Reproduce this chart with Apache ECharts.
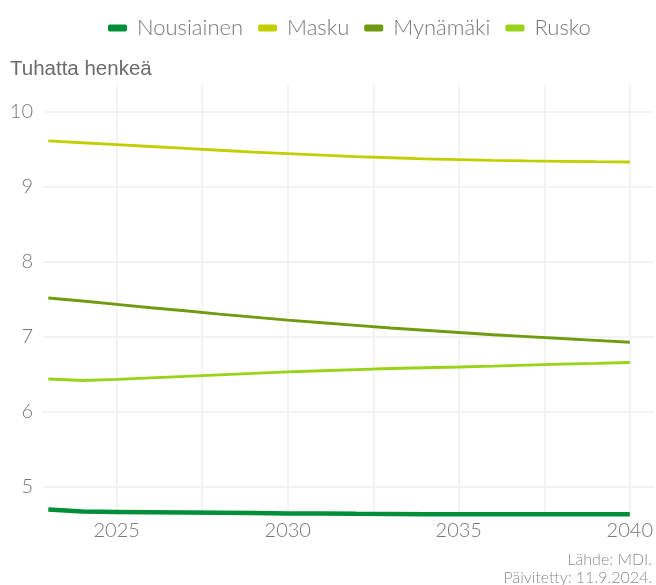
<!DOCTYPE html>
<html>
<head>
<meta charset="utf-8">
<script src="https://cdn.jsdelivr.net/npm/echarts@6/dist/echarts.min.js"></script>
<style>
  html, body { margin: 0; padding: 0; background: #fff; }
  #chart { width: 656px; height: 585px; }
</style>
</head>
<body>
<div id="chart"></div>
<script>
// Väestöennuste, tuhatta henkeä

let years = [2023, 2024, 2025, 2026, 2027, 2028, 2029, 2030, 2031, 2032, 2033, 2034, 2035, 2036, 2037, 2038, 2039, 2040];
let nousiainen = [4.70, 4.672, 4.668, 4.664, 4.66, 4.656, 4.652, 4.648, 4.645, 4.642, 4.64, 4.638, 4.637, 4.636, 4.636, 4.636, 4.636, 4.635];
let masku = [9.615, 9.59, 9.565, 9.54, 9.515, 9.49, 9.465, 9.445, 9.425, 9.405, 9.39, 9.375, 9.365, 9.355, 9.347, 9.342, 9.337, 9.333];
let mynamaki = [7.52, 7.48, 7.435, 7.39, 7.35, 7.305, 7.265, 7.225, 7.19, 7.155, 7.12, 7.09, 7.06, 7.03, 7.005, 6.98, 6.955, 6.93];
let rusko = [6.44, 6.42, 6.435, 6.455, 6.475, 6.495, 6.515, 6.535, 6.55, 6.565, 6.58, 6.59, 6.60, 6.612, 6.625, 6.637, 6.648, 6.66];

let xLabels = [2025, 2030, 2035, 2040];
let xGrid = [2025, 2027.5, 2030, 2032.5, 2035, 2037.5, 2040];
let yTicks = [5, 6, 7, 8, 9, 10];

let colors = ['#008f38', '#c1cf00', '#709b10', '#99d318'];
let thinFont = 'Lato';

function pairs(vals) {
    return years.map(function (y, i) { return [y, vals[i]]; });
}

function lineSeries(name, vals, width) {
    return {
        name: name,
        type: 'line',
        showSymbol: false,
        lineStyle: { width: width },
        data: pairs(vals)
    };
}

let myChart = echarts.init(document.getElementById('chart'));

let footStyle = {
    color: '#8a8a8a',
    fontFamily: thinFont,
    fontWeight: 300,
    fontSize: 16
};

let option = {
    color: colors,
    animation: false,
    title: [{
        text: 'Tuhatta henkeä',
        left: 5,
        top: 54,
        textStyle: {
            color: '#6b6b6b',
            fontFamily: 'Liberation Sans',
            fontWeight: 'normal',
            fontSize: 20.5
        }
    }, {
        text: 'Lähde: MDI.',
        right: -1,
        bottom: 12,
        textStyle: footStyle
    }, {
        text: 'Päivitetty: 11.9.2024.',
        right: -1,
        bottom: -6,
        textStyle: footStyle
    }],
    legend: {
        top: 12,
        left: 103,
        icon: 'roundRect',
        itemWidth: 19,
        itemHeight: 7,
        itemGap: 15,
        textStyle: {
            color: '#777',
            fontFamily: thinFont,
            fontWeight: 300,
            fontSize: 22,
            padding: [0, 0, 0, 5]
        },
        data: ['Nousiainen', 'Masku', 'Mynämäki', 'Rusko']
    },
    grid: {
        left: 43,
        right: 0,
        top: 85,
        bottom: 69,
        containLabel: false
    },
    xAxis: {
        type: 'value',
        min: 2022.845,
        max: 2040.7,
        axisLine: { show: false },
        axisTick: { show: false, customValues: xGrid },
        axisLabel: {
            customValues: xLabels,
            color: '#777',
            fontFamily: thinFont,
            fontWeight: 300,
            fontSize: 20,
            margin: 5,
            formatter: function (v) { return String(v); }
        },
        splitLine: {
            show: true,
            lineStyle: { color: '#efefef', width: 1.5 }
        }
    },
    yAxis: {
        type: 'value',
        min: 4.613,
        max: 10.36,
        axisLine: { show: false },
        axisTick: { show: false, customValues: yTicks },
        axisLabel: {
            customValues: yTicks,
            color: '#777',
            fontFamily: thinFont,
            fontWeight: 300,
            fontSize: 20,
            margin: 10
        },
        splitLine: {
            show: true,
            lineStyle: { color: '#efefef', width: 1.5 }
        }
    },
    series: [
        lineSeries('Nousiainen', nousiainen, 4.5),
        lineSeries('Masku', masku, 2.8),
        lineSeries('Mynämäki', mynamaki, 2.8),
        lineSeries('Rusko', rusko, 2.8)
    ]
};

myChart.setOption(option);
</script>
</body>
</html>
